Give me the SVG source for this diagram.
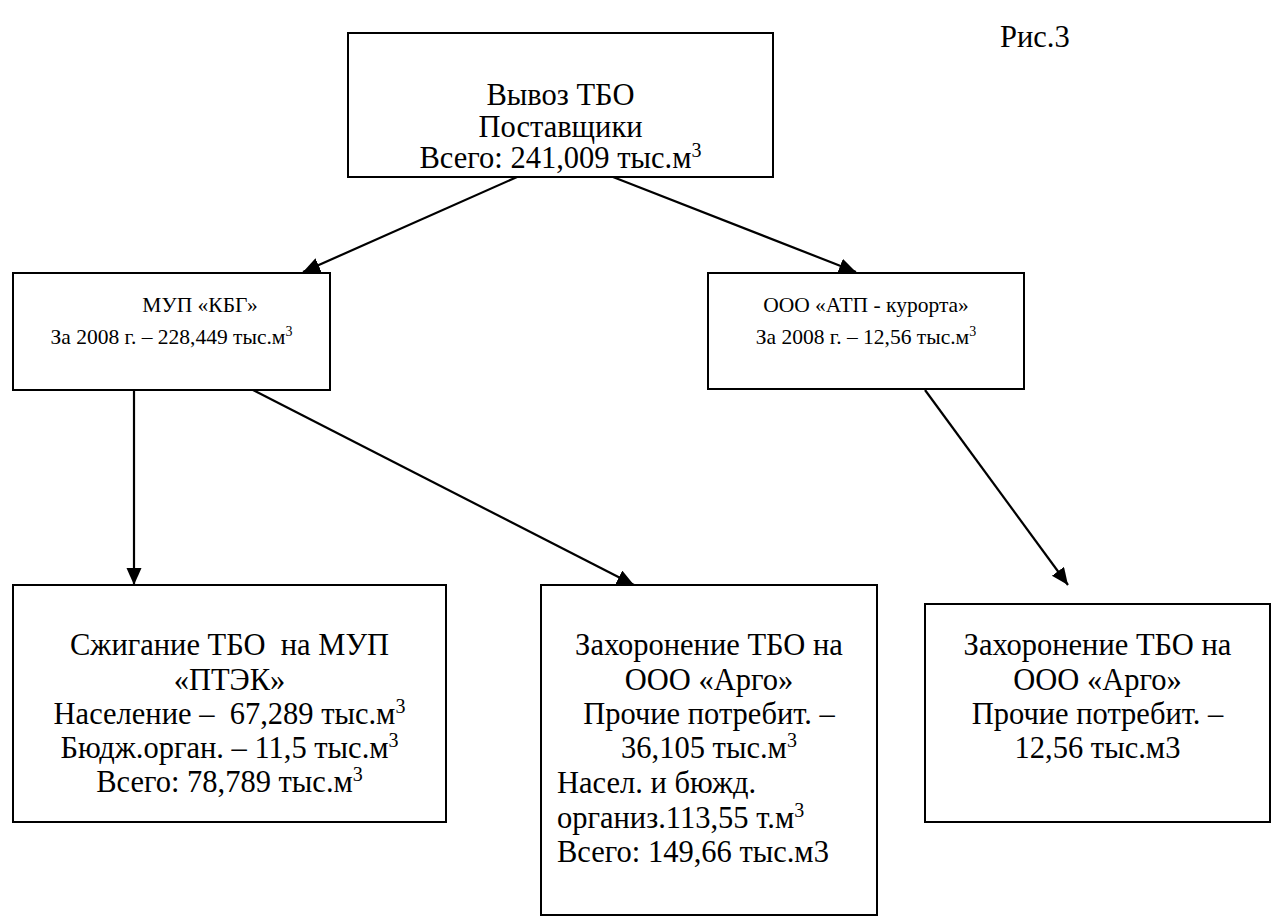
<svg xmlns="http://www.w3.org/2000/svg" width="1277" height="918" viewBox="0 0 1277 918">
<style>
.t{font-family:'Liberation Serif','Times New Roman',serif;font-size:30.5px;fill:#000}
.s{font-size:21.5px}
.c{text-anchor:middle}
.sup{font-size:20px}
.s .sup{font-size:14px}
.box{fill:#fff;stroke:#000;stroke-width:2}
.conn line{stroke:#000;stroke-width:2.2}
</style>
<defs>
<marker id="ah" markerUnits="userSpaceOnUse" markerWidth="18" markerHeight="16" refX="17" refY="7.5" orient="auto">
<path d="M0,0 L17,7.5 L0,15 z" fill="#000"/>
</marker>
</defs>
<rect width="1277" height="918" fill="#fff"/>
<g id="caption" class="t">
<text x="1000" y="47">Рис.3</text>
</g>
<g class="conn">
<line x1="517" y1="177" x2="303" y2="272" marker-end="url(#ah)"/>
<line x1="613" y1="177" x2="856" y2="272" marker-end="url(#ah)"/>
<line x1="134" y1="390" x2="134" y2="585" marker-end="url(#ah)"/>
<line x1="253" y1="390" x2="634" y2="585" marker-end="url(#ah)"/>
<line x1="925" y1="390" x2="1068" y2="585" marker-end="url(#ah)"/>
</g>
<g id="n_top" class="t">
<rect class="box" x="348" y="33" width="425" height="144"/>
<text class="c" x="560.5" y="105">Вывоз ТБО</text>
<text class="c" x="560.5" y="137">Поставщики</text>
<text class="c" x="560.5" y="168">Всего: 241,009 тыс.м<tspan class="sup" dy="-11">3</tspan></text>
</g>
<g id="n_mup" class="t s">
<rect class="box" x="13" y="273" width="317" height="117"/>
<text class="c" x="200" y="312">МУП «КБГ»</text>
<text class="c" x="171.5" y="344">За 2008 г. – 228,449 тыс.м<tspan class="sup" dy="-8">3</tspan></text>
</g>
<g id="n_atp" class="t s">
<rect class="box" x="708" y="273" width="316" height="116"/>
<text class="c" x="866" y="312">ООО «АТП - курорта»</text>
<text class="c" x="866" y="344">За 2008 г. – 12,56 тыс.м<tspan class="sup" dy="-8">3</tspan></text>
</g>
<g id="n_burn" class="t">
<rect class="box" x="13" y="585" width="433" height="237"/>
<text class="c" x="229.5" y="655">Сжигание ТБО &#160;на МУП</text>
<text class="c" x="229.5" y="690">«ПТЭК»</text>
<text class="c" x="229.5" y="724">Население – &#160;67,289 тыс.м<tspan class="sup" dy="-11">3</tspan></text>
<text class="c" x="229.5" y="758">Бюдж.орган. – 11,5 тыс.м<tspan class="sup" dy="-11">3</tspan></text>
<text class="c" x="229.5" y="792">Всего: 78,789 тыс.м<tspan class="sup" dy="-11">3</tspan></text>
</g>
<g id="n_argo1" class="t">
<rect class="box" x="541" y="585" width="336" height="330"/>
<text class="c" x="709" y="655">Захоронение ТБО на</text>
<text class="c" x="709" y="690">ООО «Арго»</text>
<text class="c" x="709" y="724">Прочие потребит. –</text>
<text class="c" x="709" y="758">36,105 тыс.м<tspan class="sup" dy="-11">3</tspan></text>
<text x="557" y="793">Насел. и бюжд.</text>
<text x="557" y="828">организ.113,55 т.м<tspan class="sup" dy="-11">3</tspan></text>
<text x="557" y="862">Всего: 149,66 тыс.м3</text>
</g>
<g id="n_argo2" class="t">
<rect class="box" x="925" y="604" width="345" height="218"/>
<text class="c" x="1097.5" y="655">Захоронение ТБО на</text>
<text class="c" x="1097.5" y="690">ООО «Арго»</text>
<text class="c" x="1097.5" y="724">Прочие потребит. –</text>
<text class="c" x="1097.5" y="758">12,56 тыс.м3</text>
</g>
</svg>
